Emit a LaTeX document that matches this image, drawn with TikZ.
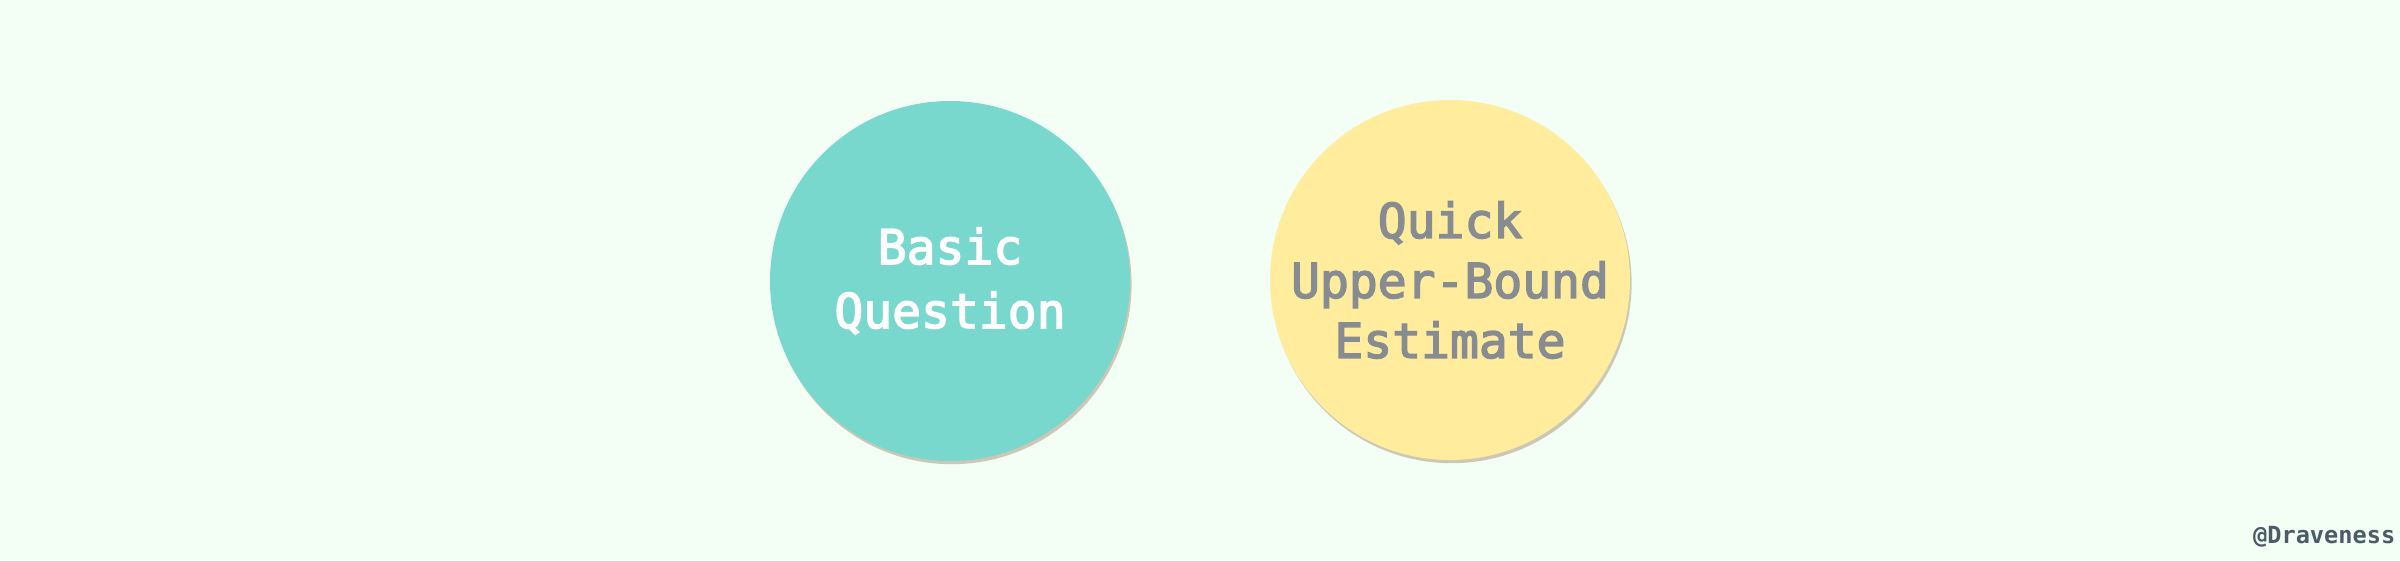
\documentclass[tikz,border=0pt]{standalone}
\usepackage{fontspec}
\setmonofont{DejaVu Sans Mono}
\newfontfamily\labelfont[FakeBold=3]{DejaVu Sans Mono}
\usetikzlibrary{shadows}
\definecolor{bgmint}{HTML}{F3FEF4}
\definecolor{tealfill}{HTML}{79D8CE}
\definecolor{sandfill}{HTML}{FFEC9C}
\definecolor{slatetext}{HTML}{878C93}
\definecolor{signtext}{HTML}{4B5B68}

\begin{document}
\begin{tikzpicture}[x=0.25pt,y=0.25pt,yscale=-1,xscale=1,
	bubble/.style={circle, minimum size=90pt, inner sep=0pt, align=center,
		font=\labelfont\fontsize{12}{15}\selectfont,
		drop shadow={shadow xshift=0.4pt, shadow yshift=-0.8pt, opacity=0.3, fill=brown!60!black}},
	sign/.style={anchor=base east, inner sep=0pt, text=signtext,
		font=\ttfamily\bfseries\fontsize{5.9}{7}\selectfont}]
	\fill [bgmint] (0,0) rectangle (2400,560) ;
	\node [bubble, fill=tealfill, text=white, font=\labelfont\fontsize{12}{16}\selectfont] (basic) at (950,281) {Basic\\Question};
	\node [bubble, fill=sandfill, text=slatetext] (quick) at (1450,280) {Quick\\Upper-Bound\\Estimate};
	\node [sign] (author) at (2396,543) {@Draveness};
\end{tikzpicture}
\end{document}
